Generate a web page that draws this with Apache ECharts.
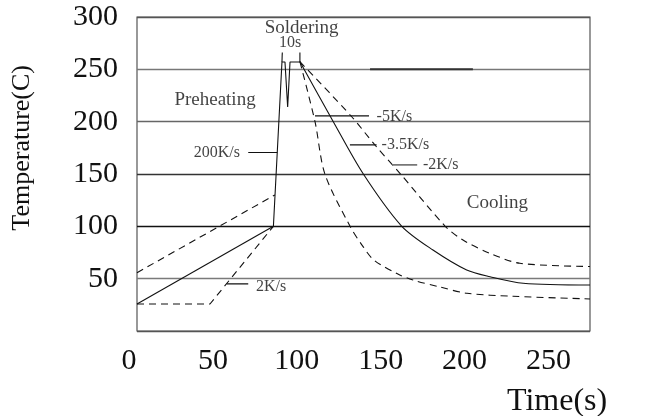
<!DOCTYPE html>
<html>
<head>
<meta charset="utf-8">
<script src="https://cdn.jsdelivr.net/npm/echarts@6/dist/echarts.min.js"></script>
<style>html,body{margin:0;padding:0;background:#fff;}#c{width:668px;height:416px;}</style>
</head>
<body>
<div id="c"></div>
<script>
// ---- data (time s, temperature C) ----
var xTicks = [0, 50, 100, 150, 200, 250];
var yTicks = [50, 100, 150, 200, 250, 300];

var preheatSolid = [[0, 25.8], [81.3, 100]];
var preheatUpperDashed = [[0, 55.7], [82.2, 130]];
var preheatLowerDashed = [[0, 25.8], [43.5, 25.8], [81.3, 100]];
var rampAndPeak = [[81.3, 100], [86.4, 257], [88.2, 257], [89.8, 214], [91.2, 257], [97.1, 257]];
var bracketLeft = [[86.4, 257], [86.6, 266]];
var bracketRight = [[97.1, 257], [97.1, 266]];

var cool5 = [[97.1, 257.3], [106.1, 200], [112, 150], [126.9, 100.3], [134.1, 82.1], [141.2, 67.8],
  [155.5, 54.4], [164.5, 48.7], [180.6, 42], [196.7, 36], [224.1, 33.2], [270, 30.6]];
var cool35 = [[97.1, 257.3], [117, 200], [134.9, 150], [157.7, 100.3], [176.4, 77.4], [196.5, 58.3],
  [210.4, 51.9], [230.2, 45.6], [270, 43.9]];
var cool2 = [[97.1, 257.3], [128, 204.7], [141.8, 177.7], [156.7, 150.7], [183.6, 100.3],
  [194.3, 86.9], [210.4, 74.2], [228.2, 64.7], [270, 61.6]];

var darkSegment = [[138.9, 250], [200.2, 250]];

// annotation texts and anchors
var noteText = ['Soldering', '10s', 'Preheating', '-5K/s', '-3.5K/s', '-2K/s', '200K/s', 'Cooling', '2K/s'];
var noteX    = [98.1, 91.2, 46.5, 142.8, 145.8, 170.4, 61.4, 214.8, 70.9];
var noteY    = [289.5, 275.3, 220.8, 204.6, 177.8, 158.7, 170.5, 122.7, 42.4];
var notePos  = ['inside', 'inside', 'inside', 'right', 'right', 'right', 'left', 'inside', 'right'];
var noteSize = [19, 16, 19, 16, 16, 16, 16, 19, 16];

// leader lines
var lead5 = [[106.1, 205.5], [138.3, 205.5]];
var lead35 = [[126.9, 177.8], [142.8, 177.8]];
var lead2 = [[152.1, 158.7], [167, 158.7]];
var lead200 = [[66.3, 170.5], [83.6, 170.5]];
var leadPre = [[53.5, 45], [66.3, 45]];

var FONT = '"Liberation Serif", "DejaVu Serif", serif';

function line(data, dashed, color, width, smooth) {
  return {
    type: 'line', data: data, symbol: 'none', silent: true, animation: false,
    smooth: smooth || false,
    lineStyle: { color: color || '#111', width: width || 1.1, type: dashed ? [7, 5] : 'solid' },
    z: 3
  };
}

var notes = noteText.map(function (t, i) {
  return {
    value: [noteX[i], noteY[i]],
    label: {
      show: true, formatter: t, position: notePos[i], distance: 0,
      fontFamily: FONT, fontSize: noteSize[i], color: '#111'
    }
  };
});

var chart = echarts.init(document.getElementById('c'), null, { renderer: 'canvas' });
chart.setOption({
  backgroundColor: '#fff',
  animation: false,
  grid: { left: 137, right: 78, top: 17, bottom: 85, show: true, borderColor: '#555', borderWidth: 1.2 },
  xAxis: {
    type: 'value', min: 0, max: 270, interval: 50,
    axisLine: { show: false }, axisTick: { show: false }, splitLine: { show: false },
    axisLabel: {
      margin: 15, fontFamily: FONT, fontSize: 30, color: '#111', padding: [0, 16, 0, 0],
      showMaxLabel: false,
      formatter: function (v) { return xTicks.indexOf(v) >= 0 ? String(v) : ''; }
    }
  },
  yAxis: {
    type: 'value', min: 0, max: 300, interval: 50,
    axisLine: { show: false }, axisTick: { show: false },
    splitLine: { show: true, lineStyle: { color: ['#555', '#7a7a7a', '#111', '#333', '#666', '#777', '#555'], width: 1.4 } },
    axisLabel: {
      margin: 19, fontFamily: FONT, fontSize: 30, color: '#111',
      formatter: function (v) { return yTicks.indexOf(v) >= 0 ? String(v) : ''; }
    }
  },
  graphic: [
    { type: 'text', left: 9, top: 65, rotation: Math.PI / 2,
      style: { text: 'Temperature(C)', font: '26px ' + FONT, fill: '#111' } },
    { type: 'text', left: 507, top: 386,
      style: { text: 'Time(s)', font: '32px ' + FONT, fill: '#111' } }
  ],
  series: [
    line(preheatSolid, false),
    line(preheatUpperDashed, true),
    line(preheatLowerDashed, true),
    line(rampAndPeak, false),
    line(bracketLeft, false),
    line(bracketRight, false),
    line(cool5, true, null, null, 0.3),
    line(cool35, false, null, null, 0.3),
    line(cool2, true, null, null, 0.3),
    line(darkSegment, false, '#333', 2),
    line(lead5, false),
    line(lead35, false),
    line(lead2, false, '#777', 1.6),
    line(lead200, false),
    line(leadPre, false),
    {
      type: 'scatter', data: notes, symbolSize: 0, silent: true, animation: false, z: 5
    }
  ]
});
</script>
</body>
</html>
